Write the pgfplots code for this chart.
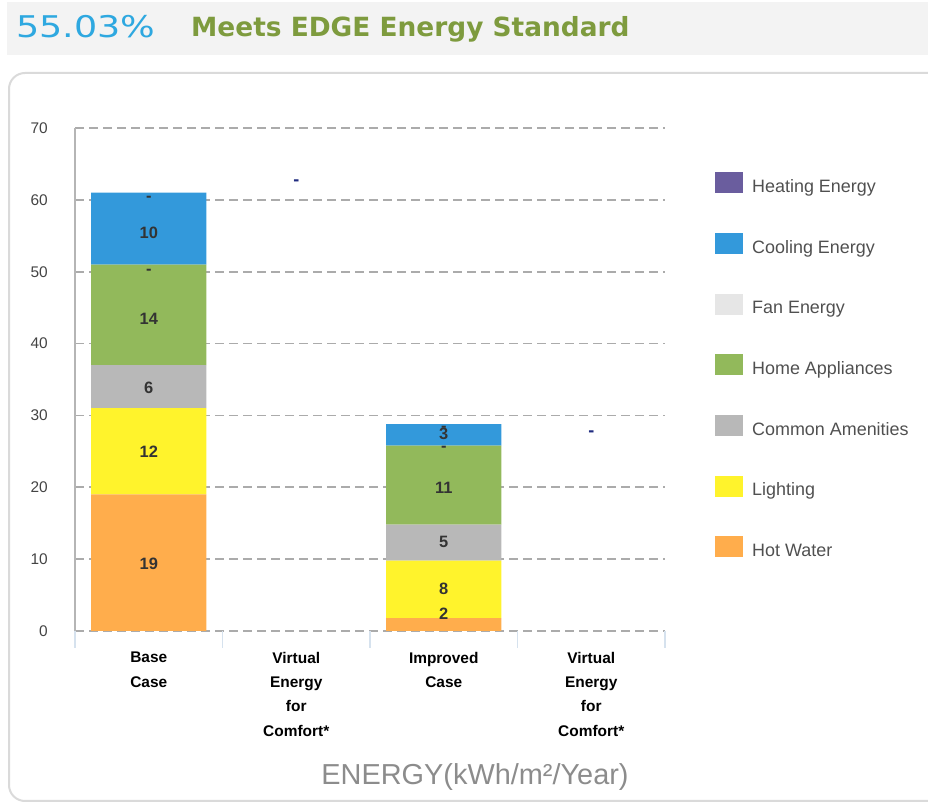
\documentclass[border=0pt]{standalone}
\usepackage{pgfplots}
\pgfplotsset{compat=1.18}
\usepackage{pgfplotstable}
\usepackage{fontspec}
\setmainfont{Liberation Sans}
\newfontfamily\dejavu{DejaVu Sans}

\definecolor{cHeat}{HTML}{6A5D9E}
\definecolor{cCool}{HTML}{3399DB}
\definecolor{cFan}{HTML}{E6E6E6}
\definecolor{cHome}{HTML}{92B95B}
\definecolor{cCommon}{HTML}{B8B8B8}
\definecolor{cLight}{HTML}{FFF32C}
\definecolor{cHot}{HTML}{FFAD4C}
\definecolor{cTitleBlue}{HTML}{2EA8E0}
\definecolor{cTitleGreen}{HTML}{7E9B3E}
\definecolor{cBand}{HTML}{F3F3F3}
\definecolor{cPanel}{HTML}{DADADA}
\definecolor{cGrid}{HTML}{ABABAB}
\definecolor{cAxis}{HTML}{B5B5B5}
\definecolor{cTick}{HTML}{D6E2EE}
\definecolor{cTickText}{HTML}{444444}
\definecolor{cLegText}{HTML}{505050}
\definecolor{cLabel}{HTML}{333333}
\definecolor{cNavy}{HTML}{202C80}
\definecolor{cEnergy}{HTML}{8C8C8C}

\pgfplotstableread{
x hot light common home fan cool heat
0 19  12 6 14 0 10 0
2 1.8 8  5 11 0 3  0
}\energy

\pgfplotstableread{
x y label
0 9.4 19
0 24.9 12
0 33.8 6
0 43.4 14
0 50.0 -
0 55.4 10
0 60.1 -
2 2.4 2
2 5.8 8
2 12.4 5
2 19.9 11
2 25.4 -
2 27.4 3
2 28.1 -
}\barlabels

\pgfplotstableread{
x y label
1 62.4 -
3 27.4 -
}\virtlabels

\begin{document}
\begin{tikzpicture}
\path[use as bounding box] (0bp,0bp) rectangle (928bp,803bp);
% header band
\fill[cBand] (7bp,748bp) rectangle (928bp,801bp);
\node[anchor=base west, inner sep=0pt, text=cTitleBlue] at (16bp,765bp) {\scalebox{1.22}[1]{\dejavu\fontsize{30}{30}\selectfont 55.03\%}};
\node[anchor=base west, inner sep=0pt, text=cTitleGreen] at (191bp,766bp) {\dejavu\bfseries\fontsize{26.5}{26.5}\selectfont Meets EDGE Energy Standard};
% panel
\draw[cPanel, line width=2bp, rounded corners=16bp] (9bp,2bp) rectangle (980bp,730bp);

\begin{axis}[
  at={(75bp,172bp)}, anchor=south west,
  scale only axis, width=590bp, height=503bp,
  xmin=-0.5, xmax=3.5, ymin=0, ymax=70,
  ybar stacked, bar width=0.78,
  axis lines*=left,
  x axis line style={draw=none},
  y axis line style={draw=cAxis, line width=1.5bp},
  ytick={0,10,...,70},
  xtick={0,1,2,3},
  xticklabels={{Base\\Case},{Virtual\\Energy\\for\\Comfort*},{Improved\\Case},{Virtual\\Energy\\for\\Comfort*}},
  minor xtick={-0.5,0.5,1.5,2.5,3.5},
  major tick length=0pt, minor tick length=17bp, tick align=outside,
  minor tick style={draw=cTick, line width=1.2bp},
  ymajorgrids,
  major grid style={draw=cGrid, line width=1.8bp, dash pattern=on 9bp off 5bp},
  /pgf/number format/assume math mode=true,
  yticklabel style={font=\fontsize{15.5}{15.5}\selectfont, text=cTickText, inner sep=0pt, xshift=-27bp},
  xticklabel style={font=\bfseries\fontsize{15.5}{24.3}\selectfont, align=center, inner sep=0pt, yshift=-21bp, text=black},
  legend style={at={(1.0847,0.9125)}, anchor=north west, draw=none, fill=none, inner sep=0pt, row sep=39bp, column sep=9bp, font=\fontsize{18}{18}\selectfont, text=cLegText, nodes={inner sep=0pt}},
  legend image code/.code={\path[#1,draw=none] (0bp,-6.5bp) rectangle (28bp,14.5bp);},
  reverse legend,
  legend cell align=left,
]
\addplot[fill=cHot, draw=none] table[x=x,y=hot]{\energy};
\addlegendentry{Hot Water}
\addplot[fill=cLight, draw=none] table[x=x,y=light]{\energy};
\addlegendentry{Lighting}
\addplot[fill=cCommon, draw=none] table[x=x,y=common]{\energy};
\addlegendentry{Common Amenities}
\addplot[fill=cHome, draw=none] table[x=x,y=home]{\energy};
\addlegendentry{Home Appliances}
\addplot[fill=cFan, draw=none] table[x=x,y=fan]{\energy};
\addlegendentry{Fan Energy}
\addplot[fill=cCool, draw=none] table[x=x,y=cool]{\energy};
\addlegendentry{Cooling Energy}
\addplot[fill=cHeat, draw=none] table[x=x,y=heat]{\energy};
\addlegendentry{Heating Energy}
\end{axis}

\begin{axis}[
  at={(75bp,172bp)}, anchor=south west,
  scale only axis, width=590bp, height=503bp,
  xmin=-0.5, xmax=3.5, ymin=0, ymax=70,
  hide axis, clip=false,
]
\addplot[only marks, mark=*, mark size=0pt, mark options={draw=none,fill=none},
  nodes near coords, point meta=explicit symbolic,
  every node near coord/.append style={anchor=center, font=\bfseries\fontsize{16.5}{16.5}\selectfont, text=cLabel}]
  table[x=x,y=y,meta=label]{\barlabels};
\addplot[only marks, mark=*, mark size=0pt, mark options={draw=none,fill=none},
  nodes near coords, point meta=explicit symbolic,
  every node near coord/.append style={anchor=center, font=\bfseries\fontsize{18}{18}\selectfont, text=cNavy}]
  table[x=x,y=y,meta=label]{\virtlabels};
\end{axis}

\node[anchor=base, inner sep=0pt, text=cEnergy] at (475bp,19bp) {\fontsize{29}{29}\selectfont ENERGY(kWh/m²/Year)};
\end{tikzpicture}
\end{document}
